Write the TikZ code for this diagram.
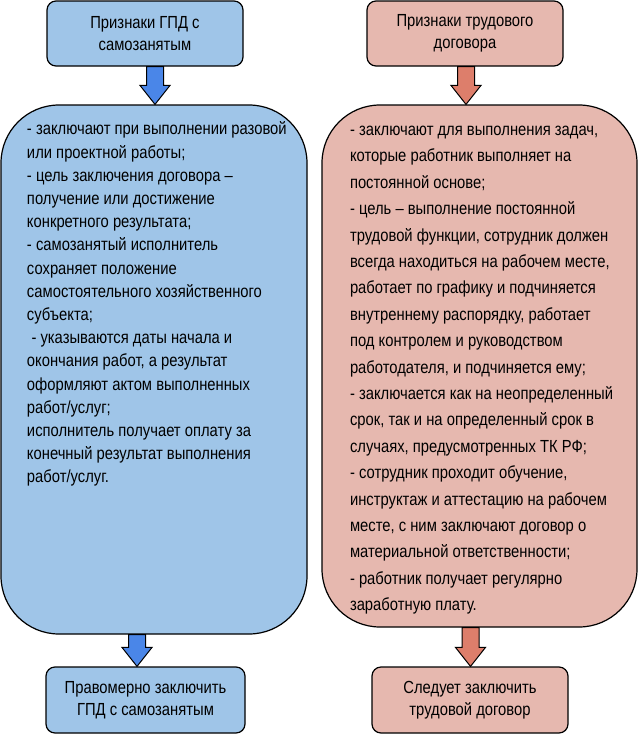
\documentclass[tikz,border=0pt]{standalone}
\usepackage{fontspec}
\setmainfont{Liberation Sans}[FakeStretch=0.845]
\usetikzlibrary{calc}
\definecolor{gpdfill}{HTML}{9FC5E8}
\definecolor{gpdarrow}{HTML}{4A86E8}
\definecolor{tdfill}{HTML}{E6B8AF}
\definecolor{tdarrow}{HTML}{DD7E6B}
\tikzset{
  headbox/.style={draw, line width=1.2pt, rounded corners=9pt, align=center,
    font=\fontsize{17.5}{22.5}\selectfont},
  bigbox/.style={draw, line width=1.2pt, rounded corners=58pt, inner sep=0pt,
    font=\fontsize{17.5}{#1}\selectfont},
  blockarrow/.style={draw, line width=1pt, line join=miter}
}
% block arrow: colour, start, end
\newcommand{\blockarrow}[3]{
  \draw[blockarrow, fill=#1] let \p1=(#2), \p2=(#3) in
    (\x1-8.5pt,\y1) -- (\x1+8.5pt,\y1) -- (\x1+8.5pt,\y2+19pt) -- (\x1+15pt,\y2+19pt)
    -- (\x1,\y2) -- (\x1-15pt,\y2+19pt) -- (\x1-8.5pt,\y2+19pt) -- cycle;
}
\begin{document}
\begin{tikzpicture}[x=1pt,y=-1pt]
  \useasboundingbox (0,0) rectangle (639,734);
  % headers
  \node[headbox, fill=gpdfill, minimum width=196pt, minimum height=65pt] (gpdhead) at (145,33.5)
    {Признаки ГПД с\\самозанятым};
  \node[headbox, fill=tdfill, minimum width=196pt, minimum height=65pt] (tdhead) at (465,33.5)
    {Признаки трудового\\договора};
  % main boxes
  \node[bigbox=23.2pt, fill=gpdfill] (gpdbox) at (154,369.5)
    {\parbox[c][529pt][t]{306pt}{\leftskip=26pt\vspace{17pt}
      - заключают при выполнении разовой\\
      или проектной работы;\\
      - цель заключения договора –\\
      получение или достижение\\
      конкретного результата;\\
      - самозанятый исполнитель\\
      сохраняет положение\\
      самостоятельного хозяйственного\\
      субъекта;\\
      \hspace*{4.5pt}- указываются даты начала и\\
      окончания работ, а результат\\
      оформляют актом выполненных\\
      работ/услуг;\\
      исполнитель получает оплату за\\
      конечный результат выполнения\\
      работ/услуг.}};
  \node[bigbox=26.4pt, fill=tdfill] (tdbox) at (479.5,366)
    {\parbox[c][522pt][t]{315pt}{\leftskip=28pt\vspace{21pt}
      - заключают для выполнения задач,\\
      которые работник выполняет на\\
      постоянной основе;\\
      - цель – выполнение постоянной\\
      трудовой функции, сотрудник должен\\
      всегда находиться на рабочем месте,\\
      работает по графику и подчиняется\\
      внутреннему распорядку, работает\\
      под контролем и руководством\\
      работодателя, и подчиняется ему;\\
      - заключается как на неопределенный\\
      срок, так и на определенный срок в\\
      случаях, предусмотренных ТК РФ;\\
      - сотрудник проходит обучение,\\
      инструктаж и аттестацию на рабочем\\
      месте, с ним заключают договор о\\
      материальной ответственности;\\
      - работник получает регулярно\\
      заработную плату.}};
  % conclusions
  \node[headbox, fill=gpdfill, minimum width=199pt, minimum height=66pt] (gpdfoot) at (145.5,700)
    {Правомерно заключить\\ГПД с самозанятым};
  \node[headbox, fill=tdfill, minimum width=196pt, minimum height=66pt] (tdfoot) at (470,700)
    {Следует заключить\\трудовой договор};
  % arrows
  \coordinate (gpdin) at ([xshift=10pt]gpdhead.south);
  \coordinate (tdin) at ([xshift=1pt]tdhead.south);
  \coordinate (gpdout) at ([xshift=-17pt]gpdbox.south);
  \coordinate (tdout) at ([xshift=-9pt]tdbox.south);
  \blockarrow{gpdarrow}{gpdin}{gpdin |- gpdbox.north}
  \blockarrow{tdarrow}{tdin}{tdin |- tdbox.north}
  \blockarrow{gpdarrow}{gpdout}{gpdout |- gpdfoot.north}
  \blockarrow{tdarrow}{tdout}{tdout |- tdfoot.north}
\end{tikzpicture}
\end{document}
